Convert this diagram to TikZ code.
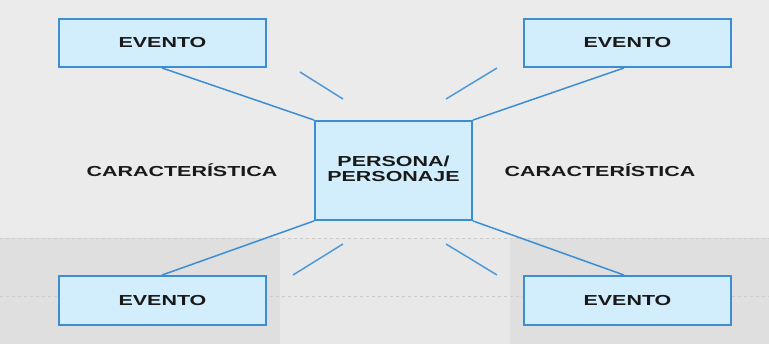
\documentclass[tikz,border=0pt]{standalone}
\usepackage{fontspec}
\setmainfont{Liberation Sans}
\usepackage{graphicx}
\definecolor{boxfill}{HTML}{D2EEFD}
\definecolor{boxline}{HTML}{3C8ED4}
\definecolor{bgtop}{HTML}{EBEBEB}
\definecolor{bgbot}{HTML}{DFDFDF}
\definecolor{bgmid}{HTML}{E8E8E8}
\newcommand\stx[1]{\scalebox{1.48}[1]{#1}}
\begin{document}
\begin{tikzpicture}[x=1pt,y=-1pt,
  box/.style={draw=boxline,line width=1.9pt,fill=boxfill,inner sep=0pt,
    font=\fontsize{14.5}{16}\selectfont\bfseries,text=black!90},
  lbl/.style={inner sep=0pt,font=\fontsize{14.5}{16}\selectfont\bfseries,text=black!90},
  conn/.style={draw=boxline,line width=1.5pt},
  tick/.style={draw=boxline!90,line width=1.5pt}]
\useasboundingbox (0,0) rectangle (769,344);
\fill[bgtop] (0,0) rectangle (769,238);
\fill[bgbot] (0,238) rectangle (769,344);
\fill[bgmid] (280,238) rectangle (510,344);
\draw[gray!40,line width=0.6pt,dashed] (0,238) -- (769,238);
\draw[gray!40,line width=0.6pt,dashed] (0,296) -- (769,296);
% nodes
\node[box,minimum width=207pt,minimum height=48pt] (tl) at (162.5,43) {\stx{EVENTO}};
\node[box,minimum width=207pt,minimum height=48pt] (tr) at (627.5,43) {\stx{EVENTO}};
\node[box,minimum width=207pt,minimum height=49pt] (bl) at (162.5,300.5) {\stx{EVENTO}};
\node[box,minimum width=207pt,minimum height=49pt] (br) at (627.5,300.5) {\stx{EVENTO}};
\node[box,minimum width=157pt,minimum height=99pt] (c) at (393.5,170.5)
  {\stx{\begin{tabular}{@{}c@{}}PERSONA/\\[-1pt]PERSONAJE\end{tabular}}};
\node[lbl] (cl) at (182,170) {\stx{CARACTERÍSTICA}};
\node[lbl] (cr) at (600,170) {\stx{CARACTERÍSTICA}};
% connectors
\draw[conn] ([xshift=-0.5pt]tl.south) -- (c.north west);
\draw[conn] ([xshift=-3.5pt]tr.south) -- (c.north east);
\draw[conn] ([xshift=-0.5pt]bl.north) -- (c.south west);
\draw[conn] ([xshift=-3.5pt]br.north) -- (c.south east);
% short ticks
\coordinate (t1a) at (300,72); \coordinate (t1b) at (343,99);
\coordinate (t2a) at (497,68); \coordinate (t2b) at (446,99);
\coordinate (t3a) at (343,244); \coordinate (t3b) at (293,275);
\coordinate (t4a) at (446,244); \coordinate (t4b) at (497,275);
\draw[tick] (t1a) -- (t1b);
\draw[tick] (t2a) -- (t2b);
\draw[tick] (t3a) -- (t3b);
\draw[tick] (t4a) -- (t4b);
\end{tikzpicture}
\end{document}
